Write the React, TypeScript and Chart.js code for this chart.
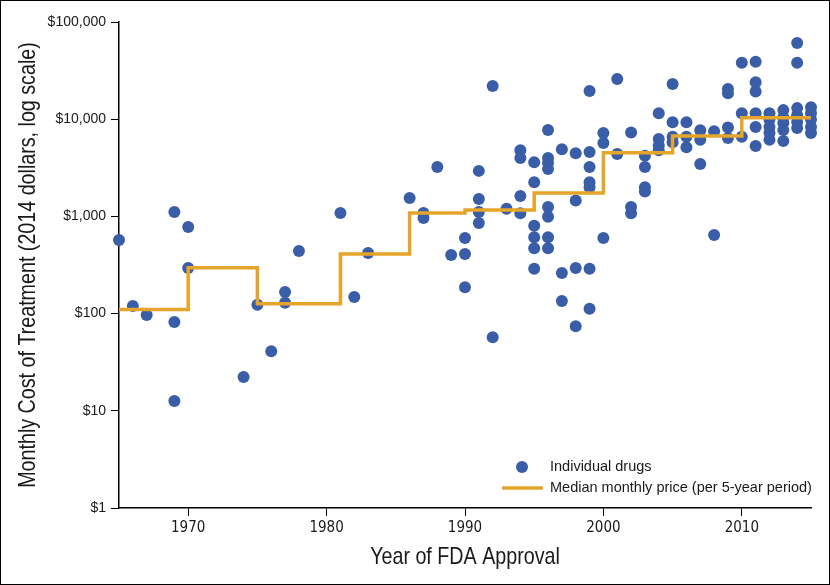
import React, { useEffect, useRef } from "react";
import { Chart, registerables } from "chart.js";

Chart.register(...registerables);

// Individual drugs: year of FDA approval and monthly cost (2014 dollars)
const drugYears = [
  1965, 1966, 1967, 1969, 1969, 1969, 1970, 1970, 1974, 1975, 1976, 1977, 1977, 1978,
  1981, 1982, 1983, 1986, 1987, 1987, 1988, 1989, 1990, 1990, 1990,
  1991, 1991, 1991, 1991, 1992, 1992, 1993, 1994, 1994, 1994, 1994,
  1995, 1995, 1995, 1995, 1995, 1995,
  1996, 1996, 1996, 1996, 1996, 1996, 1996, 1996,
  1997, 1997, 1997, 1998, 1998, 1998, 1998,
  1999, 1999, 1999, 1999, 1999, 1999, 1999,
  2000, 2000, 2000, 2001, 2001, 2002, 2002, 2002,
  2003, 2003, 2003, 2003, 2004, 2004, 2004, 2004,
  2005, 2005, 2005, 2005, 2006, 2006, 2006, 2007, 2007, 2007, 2008, 2008,
  2009, 2009, 2009, 2009, 2010, 2010, 2010,
  2011, 2011, 2011, 2011, 2011, 2011,
  2012, 2012, 2012, 2012, 2012,
  2013, 2013, 2013, 2013, 2013,
  2014, 2014, 2014, 2014, 2014, 2014,
  2015, 2015, 2015, 2015, 2015,
];
const drugCosts = [
  572, 120, 97, 1110, 82, 12.6, 780, 295, 22.3, 123, 41, 167, 129, 440,
  1083, 148, 420, 1550, 1083, 960, 3230, 400, 600, 410, 187,
  2940, 1510, 1110, 855, 21900, 57, 1200, 4800, 3990, 1620, 1080,
  3600, 2250, 800, 610, 470, 290,
  7740, 3990, 3540, 3070, 1250, 990, 610, 470,
  4900, 262, 135, 4470, 1460, 295, 74,
  19500, 4600, 3230, 2250, 2000, 290, 112,
  7200, 5700, 600, 25900, 4380, 7300, 1250, 1080,
  4200, 3230, 2000, 1800, 11500, 6250, 5360, 4800,
  23000, 9300, 6600, 5800, 9300, 6600, 5150, 7700, 6130, 3460, 7500, 645,
  20500, 18500, 8200, 6400, 38000, 11500, 6600,
  39000, 24000, 19300, 11500, 8300, 5300,
  11500, 9900, 8300, 7200, 6130,
  12400, 10500, 9130, 7750, 5980,
  60700, 38000, 13000, 11000, 9360, 8100,
  13300, 11500, 9900, 8300, 7200,
];

// Median monthly price per 5-year period (step starts)
const medianYears = [1965, 1970, 1975, 1981, 1986, 1990, 1995, 2000, 2005, 2010, 2015];
const medianCosts = [110, 297, 126, 410, 1083, 1164, 1740, 4520, 6720, 10370, 10370];

const xTickValues = [1970, 1980, 1990, 2000, 2010];
const yTickValues = [1, 10, 100, 1000, 10000, 100000];

const legendLabels = ["Individual drugs", "Median monthly price (per 5-year period)"];
const xTitle = "Year of FDA Approval";
const yTitle = "Monthly Cost of Treatment (2014 dollars, log scale)";

const BLUE = "#3A5DA8";
const ORANGE = "#E5A52A";
const CONDENSED = "'DejaVu Sans Condensed', sans-serif";
const SANS = "'Liberation Sans', Arial, Helvetica, sans-serif";
const TEXT = "#1a1a1a";

export default function App() {
  const ref = useRef<HTMLCanvasElement>(null);

  useEffect(() => {
    document.body.style.margin = "0";
    const canvas = ref.current;
    if (!canvas) return;

    // Legend, condensed axis titles and frame
    const decorPlugin = {
      id: "decor",
      afterDraw(chart: any) {
        const c = chart.ctx;
        const a = chart.chartArea;
        c.save();
        // legend
        const x0 = a.right - 309;
        const y1 = a.bottom - 41;
        const y2 = a.bottom - 20;
        c.fillStyle = BLUE;
        c.beginPath();
        c.arc(x0 + 20, y1, 6, 0, Math.PI * 2);
        c.fill();
        c.strokeStyle = ORANGE;
        c.lineWidth = 3.5;
        c.beginPath();
        c.moveTo(x0, y2);
        c.lineTo(x0 + 41, y2);
        c.stroke();
        c.fillStyle = TEXT;
        c.font = "14.5px " + SANS;
        c.textBaseline = "middle";
        c.textAlign = "left";
        c.fillText(legendLabels[0], x0 + 48, y1);
        c.fillText(legendLabels[1], x0 + 48, y2);

        // axis titles (condensed)
        c.font = "24px " + SANS;
        c.textAlign = "center";
        c.textBaseline = "middle";
        c.save();
        c.translate((a.left + a.right) / 2, a.bottom + 49);
        c.scale(0.82, 1);
        c.fillText(xTitle, 0, 0);
        c.restore();
        c.save();
        c.translate(28, (a.top + a.bottom) / 2);
        c.rotate(-Math.PI / 2);
        c.scale(0.82, 1);
        c.fillText(yTitle, 0, 0);
        c.restore();

        // frame
        c.strokeStyle = "#000";
        c.lineWidth = 1;
        c.strokeRect(0.5, 0.5, chart.width - 1, chart.height - 1);
        c.restore();
      },
    };

    const chart = new Chart(canvas, {
      type: "scatter",
      data: {
        datasets: [
          {
            type: "line",
            label: legendLabels[1],
            data: medianYears.map((x, i) => ({ x, y: medianCosts[i] })),
            stepped: true,
            borderColor: ORANGE,
            borderWidth: 3.5,
            pointRadius: 0,
            fill: false,
            order: 0,
          } as any,
          {
            type: "scatter",
            label: legendLabels[0],
            data: drugYears.map((x, i) => ({ x, y: drugCosts[i] })),
            backgroundColor: BLUE,
            borderWidth: 0,
            pointRadius: 6,
            clip: false,
            order: 1,
          } as any,
        ],
      },
      options: {
        responsive: false,
        animation: false,
        devicePixelRatio: 1,
        layout: { padding: { top: 22, right: 19, left: 0, bottom: 0 } },
        plugins: {
          legend: { display: false },
          tooltip: { enabled: false },
        },
        scales: {
          x: {
            type: "linear",
            min: 1965,
            max: 2015,
            afterBuildTicks: (s: any) => {
              s.ticks = xTickValues.map((v) => ({ value: v }));
            },
            afterFit: (s: any) => {
              s.height = 77;
            },
            border: { display: true, color: "#000", width: 1.5 },
            grid: {
              display: true,
              drawOnChartArea: false,
              drawTicks: true,
              tickLength: 8,
              tickColor: "#000",
              tickWidth: 1,
            },
            ticks: {
              color: TEXT,
              font: { family: CONDENSED, size: 15 },
              padding: 3,
              maxRotation: 0,
              callback: (v: any) => String(v),
            },
          },
          y: {
            type: "logarithmic",
            min: 1,
            max: 100000,
            afterBuildTicks: (s: any) => {
              s.ticks = yTickValues.map((v) => ({ value: v }));
            },
            afterFit: (s: any) => {
              s.width = 119;
            },
            border: { display: true, color: "#000", width: 1.5 },
            grid: {
              display: true,
              drawOnChartArea: false,
              drawTicks: true,
              tickLength: 8,
              tickColor: "#000",
              tickWidth: 1,
            },
            ticks: {
              color: TEXT,
              font: { family: SANS, size: 14 },
              padding: 5,
              callback: (v: any) => "$" + Number(v).toLocaleString("en-US"),
            },
          },
        },
      },
      plugins: [decorPlugin],
    });

    return () => chart.destroy();
  }, []);

  return (
    <div style={{ width: 830, height: 585 }}>
      <canvas ref={ref} width={830} height={585} style={{ display: "block" }} />
    </div>
  );
}
